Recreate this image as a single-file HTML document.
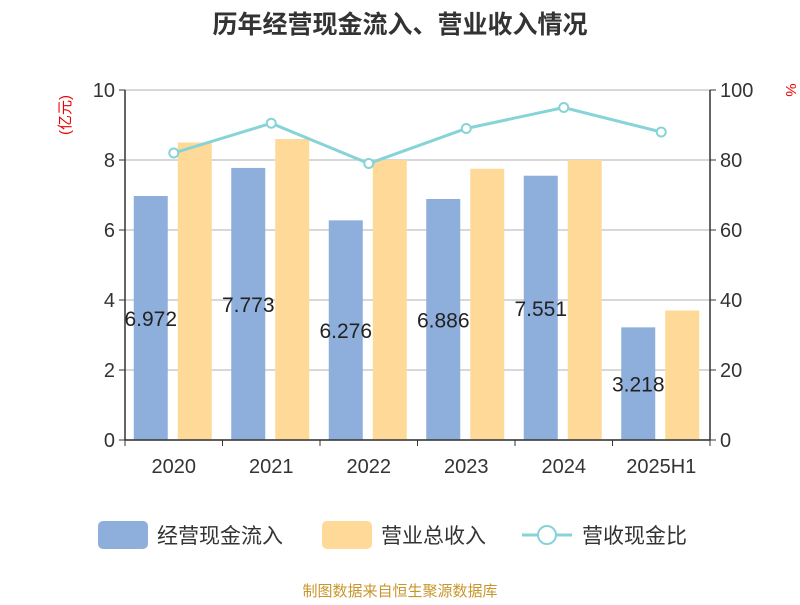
<!DOCTYPE html>
<html><head><meta charset="utf-8"><style>
body{margin:0;background:#fff;}
svg text{font-family:"Liberation Sans","Noto Sans CJK SC",sans-serif;}
</style></head><body>
<svg id="chart" width="800" height="600" xmlns="http://www.w3.org/2000/svg">
<text x="400" y="33" text-anchor="middle" font-size="25" font-weight="bold" fill="#333">历年经营现金流入、营业收入情况</text>
<text x="70" y="115" text-anchor="middle" font-size="15" fill="#e00" transform="rotate(-90 70 115)">(亿元)</text>
<text x="786" y="90" text-anchor="middle" font-size="15" fill="#e00" transform="rotate(90 786 90)">%</text>
<g id="grid"></g><g id="bars"></g><g id="axes"></g><g id="line"></g>
<g>
<rect x="98" y="521" width="50" height="28" rx="5" fill="#8eaedb"/>
<text x="157" y="543" font-size="21" fill="#333">经营现金流入</text>
<rect x="322" y="521" width="50" height="28" rx="5" fill="#ffd998"/>
<text x="381" y="543" font-size="21" fill="#333">营业总收入</text>
<line x1="522" y1="535" x2="572" y2="535" stroke="#86d3d8" stroke-width="3"/>
<circle cx="547" cy="535" r="9" fill="#fff" stroke="#86d3d8" stroke-width="2"/>
<text x="582" y="543" font-size="21" fill="#333">营收现金比</text>
</g>
<text x="400" y="596" text-anchor="middle" font-size="15" fill="#c9962c">制图数据来自恒生聚源数据库</text>
</svg>
<script>
const categories=["2020","2021","2022","2023","2024","2025H1"];
const cashInflow=[6.972,7.773,6.276,6.886,7.551,3.218];
const revenue=[8.5,8.6,8.0,7.75,8.0,3.7];
const ratio=[82,90.5,79,89,95,88];
const leftTicks=[0,2,4,6,8,10];
const rightTicks=[0,20,40,60,80,100];
const NS="http://www.w3.org/2000/svg";
const x0=125,x1=710,yTop=90,yBot=440;
const bw=(x1-x0)/categories.length;
const yL=v=>yBot-(v/10)*(yBot-yTop);
const yR=v=>yBot-(v/100)*(yBot-yTop);
const cx=i=>x0+bw*(i+0.5);
function mk(tag,attrs,parent,txt){const e=document.createElementNS(NS,tag);for(const k in attrs)e.setAttribute(k,attrs[k]);if(txt!==undefined)e.textContent=txt;document.getElementById(parent).appendChild(e);return e;}
leftTicks.forEach((t,i)=>{
 const g=mk('line',{x1:x0,x2:x1,y1:yL(t),y2:yL(t),stroke:'#ccc','stroke-width':1.5},'grid');
 
 
 const l=mk('text',{x:x0-10,y:yL(t)+7,'text-anchor':'end','font-size':20,fill:'#333'},'axes',t);
 
 
 const tk=mk('line',{x1:x0-6,x2:x0,y1:yL(t),y2:yL(t),stroke:'#333'},'axes');
 
 
});
rightTicks.forEach(t=>{
 const l=mk('text',{x:x1+10,y:yR(t)+7,'font-size':20,fill:'#333'},'axes',t);
 
 
 const tk=mk('line',{x1:x1,x2:x1+6,y1:yR(t),y2:yR(t),stroke:'#333'},'axes');
 
 
});
let a=mk('line',{x1:x0,x2:x0,y1:yTop,y2:yBot,stroke:'#333','stroke-width':1.5},'axes');


a=mk('line',{x1:x1,x2:x1,y1:yTop,y2:yBot,stroke:'#333','stroke-width':1.5},'axes');


a=mk('line',{x1:x0,x2:x1,y1:yBot,y2:yBot,stroke:'#333','stroke-width':1.5},'axes');


for(let i=0;i<=categories.length;i++){
 const tk=mk('line',{x1:x0+bw*i,x2:x0+bw*i,y1:yBot,y2:yBot+6,stroke:'#333'},'axes');
 
 
}
categories.forEach((c,i)=>{
 const l=mk('text',{x:cx(i),y:473,'text-anchor':'middle','font-size':20,fill:'#333'},'axes',c);
 
 
 const b=mk('rect',{x:cx(i)-40,y:yL(cashInflow[i]),width:34,height:yBot-yL(cashInflow[i]),fill:'#8eaedb'},'bars');
 
 
 const t=mk('text',{x:cx(i)-23,y:(yL(cashInflow[i])+yBot)/2+8,'text-anchor':'middle','font-size':21,fill:'#222'},'bars',cashInflow[i].toFixed(3));
 
 
});
categories.forEach((c,i)=>{
 const b=mk('rect',{x:cx(i)+4,y:yL(revenue[i]),width:34,height:yBot-yL(revenue[i]),fill:'#ffd998'},'bars');
 
 
});
const pts=ratio.map((v,i)=>cx(i)+','+yR(v)).join(' ');
const pl=mk('polyline',{points:pts,fill:'none',stroke:'#86d3d8','stroke-width':3},'line');


ratio.forEach((v,i)=>{
 const p=mk('circle',{cx:cx(i),cy:yR(v),r:4.5,fill:'#fff',stroke:'#86d3d8','stroke-width':2},'line');
 
 
});
</script>
</body></html>
